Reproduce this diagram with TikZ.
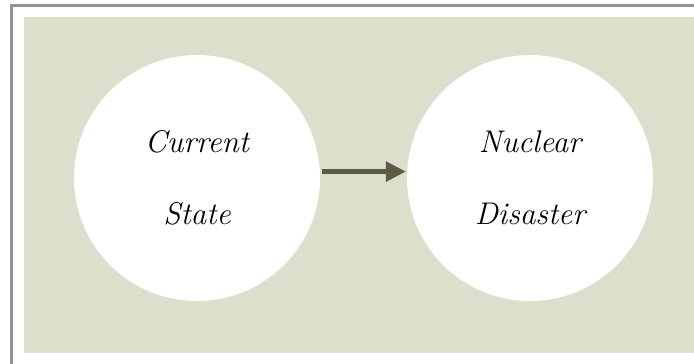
\documentclass[tikz,border=0pt]{standalone}
\usetikzlibrary{arrows.meta}
\definecolor{frameGray}{HTML}{939393}
\definecolor{paper}{HTML}{DEDECD}
\definecolor{arrowOlive}{HTML}{5C5C44}

\begin{document}
\begin{tikzpicture}[
    x = 0.75pt,
    y = -0.75pt,
    >={Triangle[length=15pt, width=14.5pt]},
    state/.style = {circle, fill=white, minimum size=184.5pt,
    inner sep=0pt, outer sep=0pt, align=center,
    font=\fontsize{23.5pt}{54pt}\selectfont\itshape},
    flow/.style = {->, line width=3.8pt, draw=arrowOlive,
    shorten <=1.5pt, shorten >=1pt},
]

\useasboundingbox (0,0) rectangle (694,364);
\fill [white] (0,0) rectangle (694,364);
\fill [frameGray] (10,4) rectangle (694,364);
\fill [white] (13,7) rectangle (694,364);
\fill [paper] (24,17) rectangle (694,353);

\node[state] (current) at (197,178) {Current\\State};
\node[state] (disaster) at (530,178) {Nuclear\\Disaster};

\draw [flow] (current.3) -- (disaster.177);

\end{tikzpicture}
\end{document}
